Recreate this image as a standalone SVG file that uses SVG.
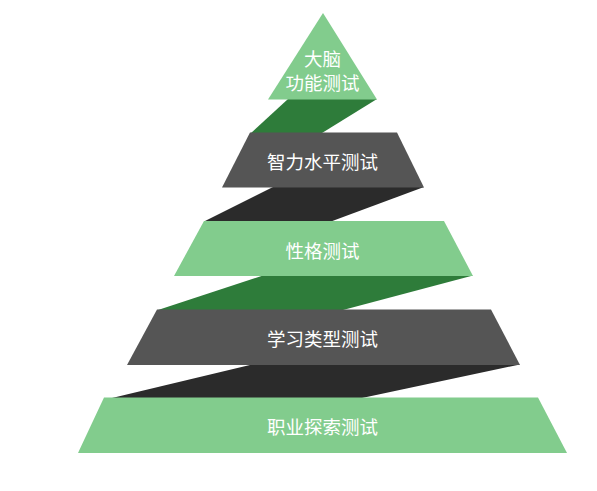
<svg xmlns="http://www.w3.org/2000/svg" width="597" height="491" viewBox="0 0 597 491">
  <style>
    .light { fill: #82cc8d; }
    .gray { fill: #555555; }
    .dgreen { fill: #2e7c3a; }
    .black { fill: #2b2b2b; }
    .lbl { fill: #ffffff; font-family: "Noto Sans CJK SC", "Liberation Sans", sans-serif; font-size: 18.5px; text-anchor: middle; dominant-baseline: central; }
  </style>
  <rect width="597" height="491" fill="#ffffff"/>
  <g id="connectors">
    <polygon class="dgreen" points="288,99 377,99 322,133 251,133"/>
    <polygon class="black" points="273,187 424,187 331,221.5 204,221.5"/>
    <polygon class="dgreen" points="263,275.5 473,275.5 343,310 158,310"/>
    <polygon class="black" points="252,364.5 520,364.5 362,398 112,398"/>
  </g>
  <g id="level1">
    <polygon class="light" points="323,13 377,99.5 268,99.5"/>
    <text class="lbl" x="322.5" y="57.5">大脑</text>
    <text class="lbl" x="322.5" y="82">功能测试</text>
  </g>
  <g id="level2">
    <polygon class="gray" points="250,132.5 397,132.5 424,187.5 222,187.5"/>
    <text class="lbl" x="322.5" y="161">智力水平测试</text>
  </g>
  <g id="level3">
    <polygon class="light" points="204,221 444,221 473,276 174,276"/>
    <text class="lbl" x="322.5" y="249.5">性格测试</text>
  </g>
  <g id="level4">
    <polygon class="gray" points="157,309.5 491,309.5 520,365 127,365"/>
    <text class="lbl" x="322.5" y="338">学习类型测试</text>
  </g>
  <g id="level5">
    <polygon class="light" points="104,397.5 538,397.5 567,453 78,453"/>
    <text class="lbl" x="322.5" y="426">职业探索测试</text>
  </g>
</svg>
